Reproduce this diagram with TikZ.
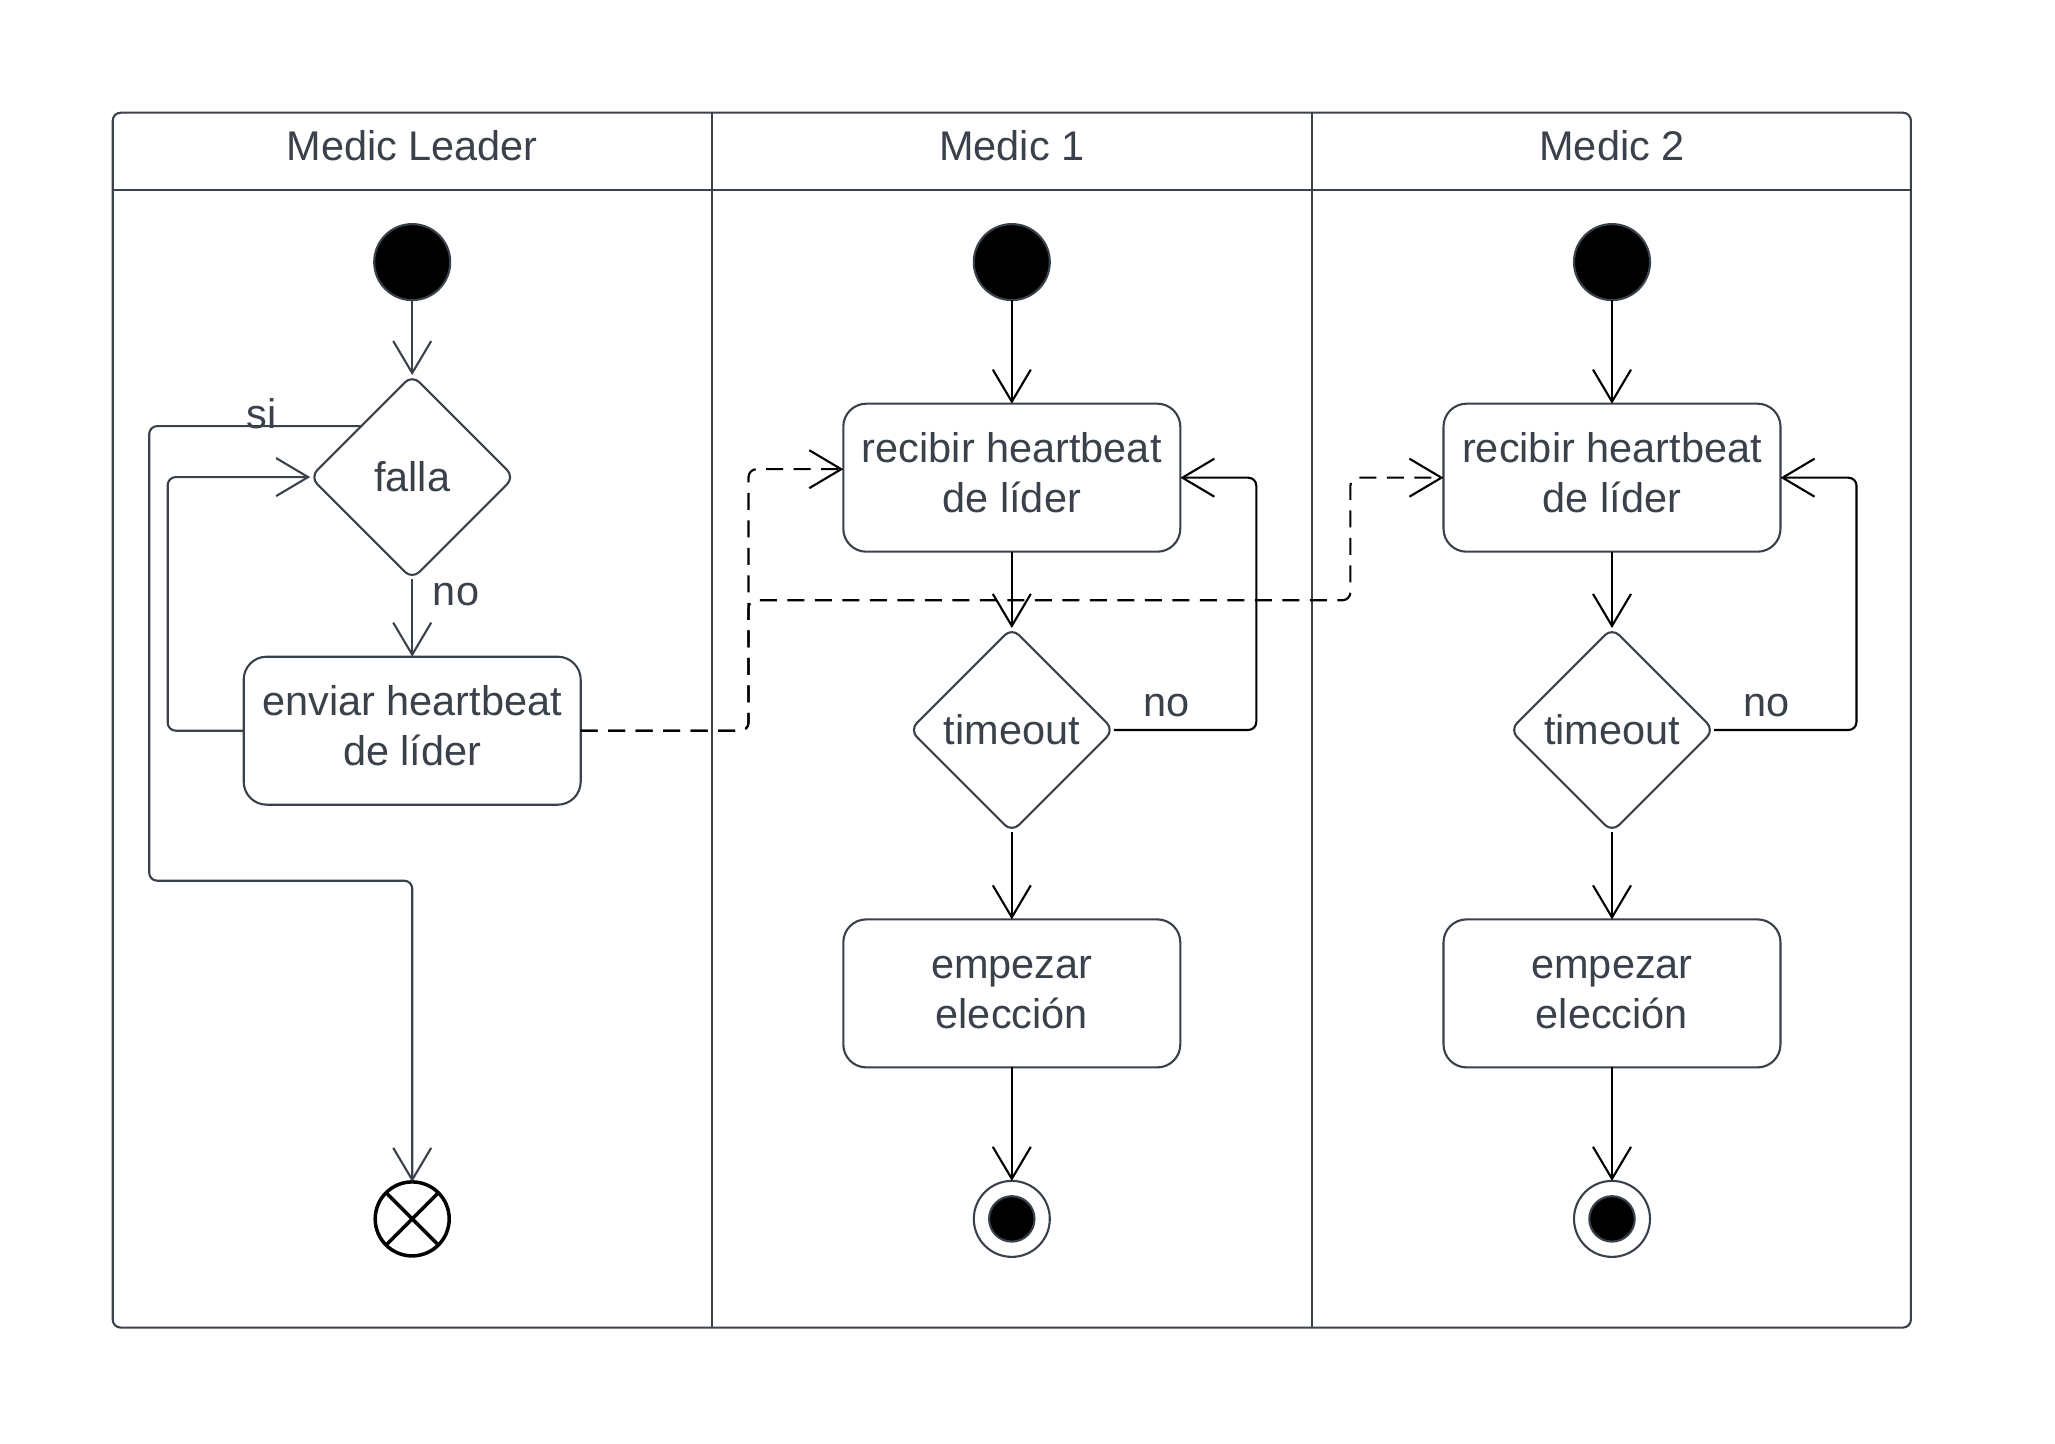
\documentclass[tikz,border=0pt]{standalone}
\usepackage{fontspec}
\setmainfont{Liberation Sans}
\usepackage{xcolor}
\usetikzlibrary{arrows.meta, calc, positioning, shapes.geometric}
\definecolor{slate}{HTML}{3A414A}

\begin{document}
\begin{tikzpicture}[>={Straight Barb[length=3.2mm, width=3.8mm]}, line width=0.6pt,
  font=\fontsize{11.8}{14.2}\selectfont, text=slate,
  act/.style={draw=slate, rectangle, rounded corners=2.3mm, minimum width=3.37cm, minimum height=1.48cm, align=center, text depth=0.1cm, outer sep=0pt},
  dec/.style={draw=slate, diamond, aspect=1, minimum width=2.04cm, minimum height=2.04cm, inner sep=0pt, outer sep=0pt, rounded corners=1mm},
  startnode/.style={draw=slate, fill=black, circle, minimum size=0.76cm, inner sep=0pt, outer sep=0pt},
  finalnode/.style={draw=slate, fill=white, circle, minimum size=0.76cm, inner sep=0pt, outer sep=0pt},
  finaldot/.style={draw=slate, fill=black, circle, minimum size=0.454cm, inner sep=0pt},
  flowend/.style={draw=black, line width=1pt, circle, minimum size=0.74cm, inner sep=0pt, outer sep=0pt},
  flow/.style={->, draw=slate, rounded corners=0.8mm},
  medflow/.style={flow, draw=black},
  msg/.style={flow, draw=black, dash pattern=on 1.7mm off 1.05mm}]
\useasboundingbox (0,0) rectangle (20.55,-14.44);

% Swimlanes
\draw[slate, rounded corners=0.8mm] (1.127,-1.127) rectangle (19.109,-13.276);
\draw[slate] (1.127,-1.900) -- (19.109,-1.900);
\draw[slate] (7.117,-1.127) -- (7.117,-13.276);
\draw[slate] (13.119,-1.127) -- (13.119,-13.276);
\node (ttlLeader) at (4.122,-1.455) {Medic Leader};
\node (ttlMedicA) at (10.118,-1.455) {Medic 1};
\node (ttlMedicB) at (16.120,-1.455) {Medic 2};

% Medic Leader
\node[startnode] (lstart) at (4.122,-2.621) {};
\node[dec, below=0.75cm of lstart] (lfalla) {falla};
\node[act, below=0.776cm of lfalla] (lenv) {enviar heartbeat\\de líder};
\node[flowend, below=3.772cm of lenv] (lend) {};
\draw[black, line width=1pt] (lend.north west) -- (lend.south east);
\draw[black, line width=1pt] (lend.north east) -- (lend.south west);

% Medic 1
\node[startnode] (s1) at (10.118,-2.621) {};
\node[act, below=1.036cm of s1] (rec1) {recibir heartbeat\\de líder};
\node[dec, below=0.763cm of rec1] (tmo1) {timeout};
\node[act, text depth=0.02cm, below=0.874cm of tmo1] (emp1) {empezar\\elección};
\node[finalnode, below=1.135cm of emp1] (fin1) {};
\node[finaldot] (dot1) at (fin1) {};

% Medic 2
\node[startnode] (s2) at (16.120,-2.621) {};
\node[act, below=1.036cm of s2] (rec2) {recibir heartbeat\\de líder};
\node[dec, below=0.763cm of rec2] (tmo2) {timeout};
\node[act, text depth=0.02cm, below=0.874cm of tmo2] (emp2) {empezar\\elección};
\node[finalnode, below=1.135cm of emp2] (fin2) {};
\node[finaldot] (dot2) at (fin2) {};

% Leader flow
\draw[flow] (lstart) -- (lfalla);
\draw[flow] (lfalla) -- node[right, pos=0.2, xshift=0.08cm] {no} (lenv);
\draw[flow] (lfalla.north west) -- node[above, pos=0.47, inner sep=0pt, yshift=-0.04cm] {si} ++(-2.12,0) |- ($(lend.north)+(0,3.012)$) -- (lend.north);
\draw[flow] (lenv.west) -- ++(-0.76,0) |- (lfalla.west);

% Heartbeats
\draw[msg] (lenv.east) -- ++(1.678,0) |- ($(rec1.west)+(0,0.085)$);
\draw[msg] (lenv.east) -| ++(1.678,1.304) -| ($(rec2.west)+(-0.931,0)$) -- (rec2.west);

% Medic flows
\draw[medflow] (s1) -- (rec1);
\draw[medflow] (rec1) -- (tmo1);
\draw[medflow] (tmo1.east) -- node[above, pos=0.37] {no} ++(1.425,0) |- (rec1.east);
\draw[medflow] (tmo1) -- (emp1);
\draw[medflow] (emp1) -- (fin1);

\draw[medflow] (s2) -- (rec2);
\draw[medflow] (rec2) -- (tmo2);
\draw[medflow] (tmo2.east) -- node[above, pos=0.37] {no} ++(1.425,0) |- (rec2.east);
\draw[medflow] (tmo2) -- (emp2);
\draw[medflow] (emp2) -- (fin2);
\end{tikzpicture}
\end{document}
